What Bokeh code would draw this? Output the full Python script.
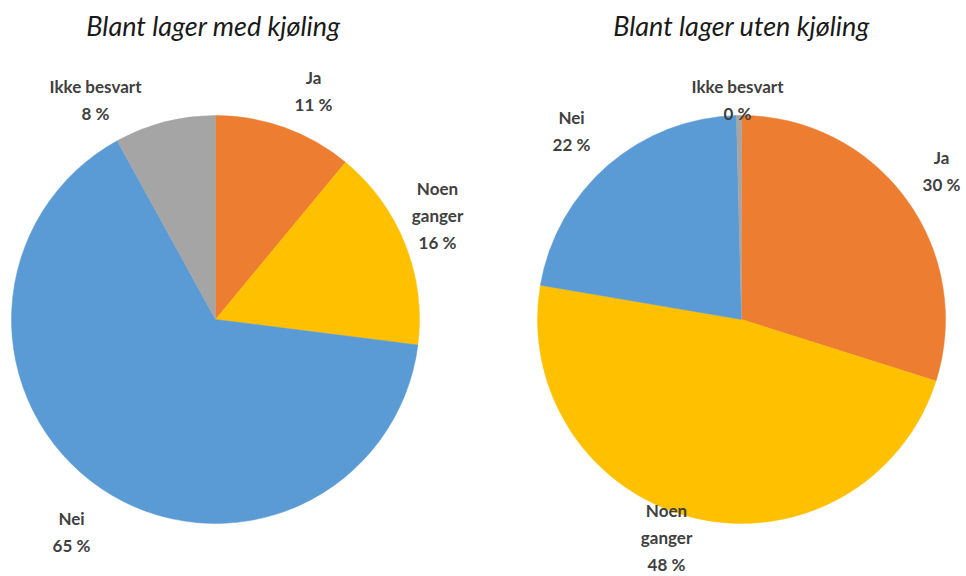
from bokeh.plotting import figure
from bokeh.models import ColumnDataSource, Range1d
from bokeh.core.properties import value
from bokeh.embed import file_html
from bokeh.resources import INLINE
import math

# ---- data ----
titles = ["Blant lager med kjøling", "Blant lager uten kjøling"]
categories = ["Ja", "Noen ganger", "Nei", "Ikke besvart"]
label_names = [["Ja"], ["Noen", "ganger"], ["Nei"], ["Ikke besvart"]]
med_kjoling = [11, 16, 65, 8]
uten_kjoling = [30, 48, 22, 0.4]
med_labels = ["11", "16", "65", "8"]
uten_labels = ["30", "48", "22", "0"]

# ---- styles / layout ----
colors = ["#ED7D31", "#FFC000", "#5B9BD5", "#A5A5A5"]
W, H = 966, 576
centers = [(215, 319), (741, 319)]
radius = 204
title_pos = [(213, 25), (741, 25)]
# label anchor (page px) per pie, per category
label_pos = [
    [(313, 77), (437, 188), (71, 518), (95, 86)],
    [(941, 157), (666, 510), (571, 117), (737, 86)],
]
LINE_GAP = 27

p = figure(width=W, height=H, output_backend="svg", toolbar_location=None,
           x_range=Range1d(0, W), y_range=Range1d(-H, 0),
           min_border=0, outline_line_color=None)
p.axis.visible = False
p.grid.visible = False
p.background_fill_color = "white"

series = [med_kjoling, uten_kjoling]
pct_labels = [med_labels, uten_labels]

for k, vals in enumerate(series):
    total = sum(vals)
    cx, cy = centers[k]
    starts, ends = [], []
    cum = 0.0
    for v in vals:
        a0 = cum / total
        cum += v
        a1 = cum / total
        starts.append(math.pi / 2 - 2 * math.pi * a1)
        ends.append(math.pi / 2 - 2 * math.pi * a0)
    src = ColumnDataSource(dict(x=[cx] * len(vals), y=[-cy] * len(vals),
                                start=starts, end=ends, color=colors, cat=categories))
    p.wedge(x="x", y="y", radius=radius, start_angle="start", end_angle="end",
            fill_color="color", line_color="color", line_width=0.5, source=src)

    lx, ly, lt = [], [], []
    for i, cat in enumerate(categories):
        lines = label_names[i] + [pct_labels[k][i] + " %"]
        x0, y0 = label_pos[k][i]
        for j, t in enumerate(lines):
            lx.append(x0)
            ly.append(-(y0 + j * LINE_GAP))
            lt.append(t)
    p.text(x=lx, y=ly, text=lt, text_font=value("Lato"), text_font_style="bold",
           text_font_size="17px", text_color="#404040", text_align="center",
           text_baseline="middle")

    tx, ty = title_pos[k]
    p.text(x=[tx], y=[-ty], text=[titles[k]], text_font=value("Lato"),
           text_font_style="italic", text_font_size="27px", text_color="#1a1a1a",
           text_align="center", text_baseline="middle")

open("out.html", "w").write(file_html(p, INLINE))
